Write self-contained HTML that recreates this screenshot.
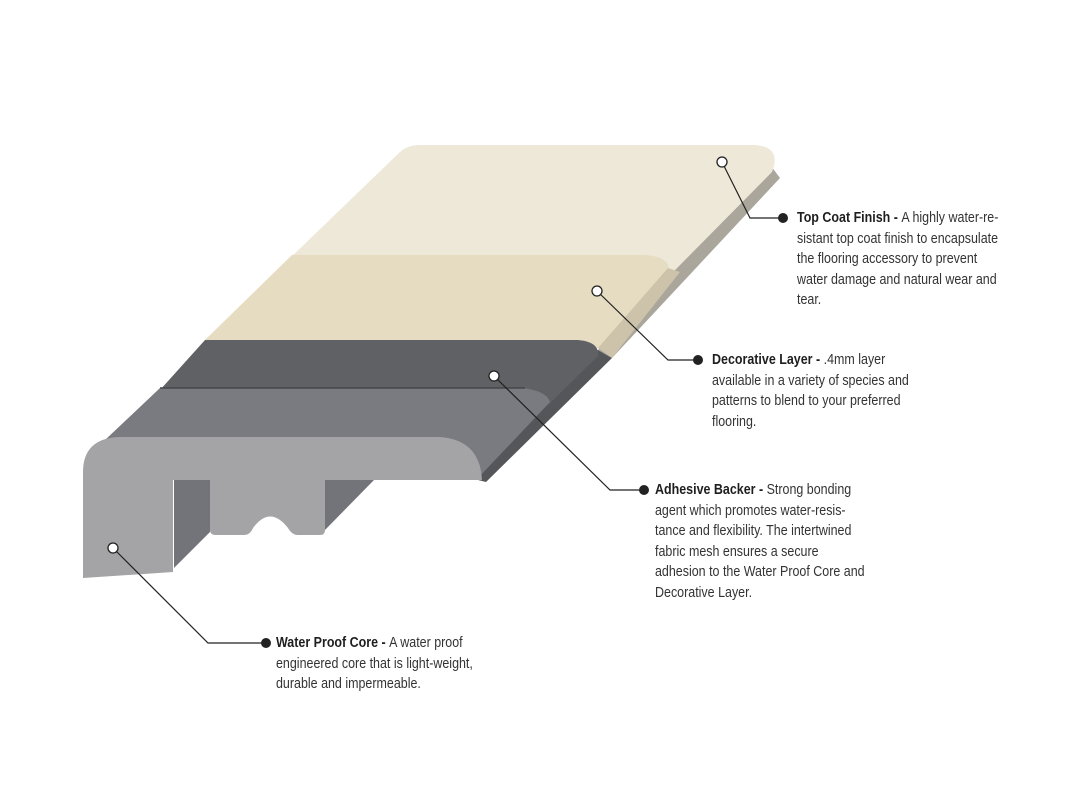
<!DOCTYPE html>
<html><head><meta charset="utf-8"><style>
html,body{margin:0;padding:0;background:#fff;width:1080px;height:800px;overflow:hidden}
.t{position:absolute;font-family:"Liberation Sans Narrow","Liberation Sans",sans-serif;font-size:14.5px;line-height:20.5px;color:#333;white-space:pre;transform:scaleX(0.86);transform-origin:0 0}
.t b{color:#1e1e1e;font-weight:bold}
</style></head><body>
<svg width="1080" height="800" style="position:absolute;left:0;top:0">
<!-- extrusion recesses -->
<polygon points="174,480 210,480 210,532 174,568" fill="#737479"/>
<polygon points="325,480 374,480 325,530" fill="#737479"/>
<!-- cream side strip -->
<polygon points="768,162 780,178 612,358 598,350" fill="#aaa69c"/>
<!-- cream face -->
<path d="M420,145 L755,145 Q782,147 772,172 L598,348 L205,340 L400,152 Q408,145 420,145 Z" fill="#eee8d9"/>
<path d="M292,255 L645,255 Q672,257 668,272 L598,348 L205,340 Z" fill="#e6dcc2"/>
<polygon points="668,268 680,272 612,358 598,348" fill="#cdc3aa"/>
<!-- side strip for gray bands -->
<polygon points="598,350 612,358 486,482 470,478" fill="#55565a"/>
<!-- dark band -->
<path d="M205,340 L578,340 Q600,342 598,356 L548,405 L160,390 Z" fill="#606165"/>
<!-- medium band -->
<path d="M160,388 L520,388 Q546,390 550,402 L478,478 L105,440 Z" fill="#7a7b80"/>
<line x1="160" y1="388" x2="525" y2="388" stroke="#46474b" stroke-width="1.5"/>
<!-- front profile -->
<path d="M83,578 L173,572 L173,480 L210,480 L210,530 Q210,535 216,535 L244,535 Q250,535 253,528 Q270,505 288,528 Q292,535 298,535 L320,535 Q325,535 325,530 L325,480 L482,480 Q480,440 440,437 L118,437 Q83,439 83,472 Z" fill="#a4a4a6"/>
<!-- leaders -->
<g fill="none" stroke="#222" stroke-width="1.2">
<polyline points="722,162 750,218 783,218"/>
<polyline points="597,291 668,360 697,360"/>
<polyline points="494,376 610,490 643,490"/>
<polyline points="113,548 208,643 265,643"/>
</g>
<g fill="#fff" stroke="#222" stroke-width="1.3">
<circle cx="722" cy="162" r="5"/><circle cx="597" cy="291" r="5"/>
<circle cx="494" cy="376" r="5"/><circle cx="113" cy="548" r="5"/>
</g>
<g fill="#222">
<circle cx="783" cy="218" r="5"/><circle cx="698" cy="360" r="5"/>
<circle cx="644" cy="490" r="5"/><circle cx="266" cy="643" r="5"/>
</g>
</svg>
<div class="t" style="left:797px;top:208px"><b>Top Coat Finish - </b>A highly water-re-
sistant top coat finish to encapsulate
the flooring accessory to prevent
water damage and natural wear and
tear.</div>
<div class="t" style="left:712px;top:350px"><b>Decorative Layer - </b>.4mm layer
available in a variety of species and
patterns to blend to your preferred
flooring.</div>
<div class="t" style="left:655px;top:480px"><b>Adhesive Backer - </b>Strong bonding
agent which promotes water-resis-
tance and flexibility. The intertwined
fabric mesh ensures a secure
adhesion to the Water Proof Core and
Decorative Layer.</div>
<div class="t" style="left:276px;top:633px"><b>Water Proof Core - </b>A water proof
engineered core that is light-weight,
durable and impermeable.</div>
</body></html>
